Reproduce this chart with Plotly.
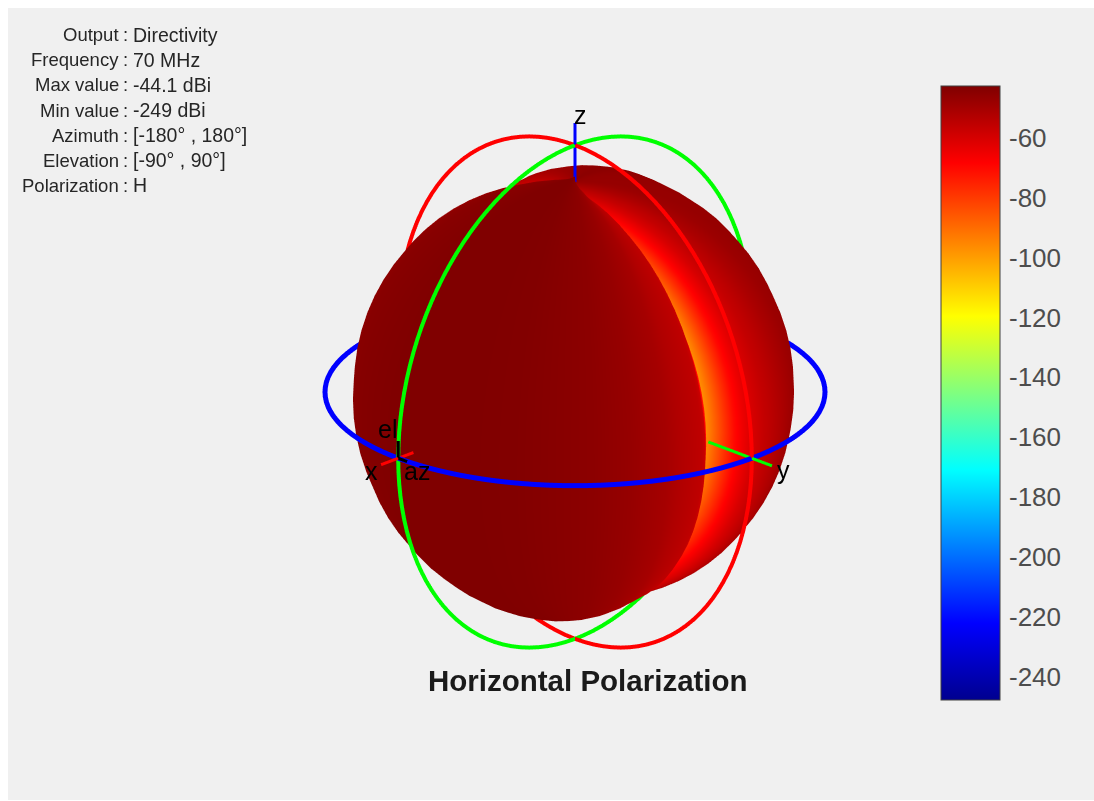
import numpy as np
import plotly.graph_objects as go

# ---- data ----
info_labels = ["Output", "Frequency", "Max value", "Min value", "Azimuth", "Elevation", "Polarization"]
info_values = ["Directivity", "70 MHz", "-44.1 dBi", "-249 dBi", "[-180° , 180°]", "[-90° , 90°]", "H"]
title_text = "Horizontal Polarization"

azimuth_deg = [-180, -170, -160, -150, -140, -130, -120, -110, -100, -95, -90, -87, -85, -84.5, -84, -83.5, -83,
               -80, -76, -70, -60, -50, -40, -30, -20, -10, 0, 10, 20, 30, 40, 50, 60, 65, 70, 74, 78, 82, 84,
               85, 87, 89, 91, 93, 95, 96, 96.4, 96.8, 97, 98, 99, 100, 102, 105, 110, 120, 130, 135, 140,
               150, 160, 170, 180]
directivity_db = [-48, -47, -47, -47.5, -48, -49, -50, -52, -56, -60, -68, -75, -90, -110, -249, -110, -85,
                  -72, -64, -57, -50, -47, -46, -45.5, -45, -44.5, -44.1, -44.3, -44.6, -45, -46, -47, -49,
                  -50.5, -52, -54, -55.5, -57, -60,
                  -65, -71, -77, -83, -89, -95, -100, -249, -120, -100, -90, -80, -72, -67, -62, -58, -53, -50,
                  -49.5, -49, -49, -48.5, -48.5, -48]
elevation_deg = [-90, -85, -80, -75, -70, -65, -60, -55, -50, -45, -40, -35, -30, -25, -20, -15, -10, -5, 0,
                 5, 10, 15, 20, 25, 30, 35, 40, 45, 50, 55, 60, 65, 70, 75, 80, 85, 90]
colorbar_ticks = [-240, -220, -200, -180, -160, -140, -120, -100, -80, -60]
axis_labels = ["x", "y", "z", "el", "az"]
d_min, d_max = -249, -44.1

jet = [[0, "rgb(0,0,143)"], [0.125, "rgb(0,0,255)"], [0.375, "rgb(0,255,255)"],
       [0.625, "rgb(255,255,0)"], [0.875, "rgb(255,0,0)"], [1, "rgb(128,0,0)"]]

# ---- page geometry ----
W, H = 1086, 792
px = lambda v: (v - 8) / W
py = lambda v: 1 - (v - 8) / H

# ---- sphere ----
az = np.radians(azimuth_deg)
el = np.radians(elevation_deg)
AZ, EL = np.meshgrid(az, el)
D = np.tile(np.array(directivity_db), (len(elevation_deg), 1))
R = 0.9 * (D - d_min) / (d_max - d_min)

fig = go.Figure()
fig.add_trace(go.Surface(
    x=R * np.cos(EL) * np.cos(AZ), y=R * np.cos(EL) * np.sin(AZ), z=0.97 * R * np.sin(EL),
    surfacecolor=D, cmin=d_min, cmax=d_max, colorscale=jet, hoverinfo="skip",
    lighting=dict(ambient=1, diffuse=0, specular=0, roughness=1, fresnel=0),
    contours=dict(x=dict(highlight=False), y=dict(highlight=False), z=dict(highlight=False)),
    colorbar=dict(x=px(941), xanchor="left", xpad=0, y=py(86), yanchor="top", ypad=0,
                  lenmode="pixels", len=614, thicknessmode="pixels", thickness=59,
                  outlinecolor="#404040", outlinewidth=1, ticks="", showticklabels=False),
))

# ---- reference rings and axes ----
t = np.radians(np.arange(0, 361, 3))
rings = [(np.cos(t), np.sin(t), 0 * t, "#0000ff", 10),
         (np.cos(t), 0 * t, np.sin(t), "#00ff00", 8),
         (0 * t, np.cos(t), np.sin(t), "#ff0000", 8)]
for x, y, z, c, w in rings:
    fig.add_trace(go.Scatter3d(x=x, y=y, z=z, mode="lines", line=dict(color=c, width=w),
                               hoverinfo="skip", showlegend=False))
segments = [([0, 0], [0, 0], [0.85, 1.09], "#0000ff", 6),
            ([0.914, 1.097], [0, 0], [0, 0], "#ff0000", 6),
            ([0, 0], [0.754, 1.114], [0, 0], "#00ff00", 6),
            ([1, 1], [0, 0], [0, 0.07], "#000000", 6),
            ([1, 1], [0, 0.05], [0, 0], "#000000", 6)]
for x, y, z, c, w in segments:
    fig.add_trace(go.Scatter3d(x=x, y=y, z=z, mode="lines", line=dict(color=c, width=w),
                               hoverinfo="skip", showlegend=False))

# empty trace that carries the colorbar's tick marks and labels
fig.add_trace(go.Scatter(x=[None], y=[None], showlegend=False, hoverinfo="skip"))

off = dict(visible=False, showgrid=False, zeroline=False, showbackground=False, range=[-1.2, 1.2])
annotations = []
for i, (lab, val) in enumerate(zip(info_labels, info_values)):
    yy = py(35 + 25 * i)
    annotations.append(dict(text=lab, x=px(120.5), y=yy, xref="paper", yref="paper", xanchor="right",
                            yanchor="middle", showarrow=False, font=dict(family="Liberation Sans", size=18.5, color="#262626")))
    annotations.append(dict(text=":", x=px(125), y=yy, xref="paper", yref="paper", xanchor="center",
                            yanchor="middle", showarrow=False, font=dict(family="Liberation Sans", size=18.5, color="#262626")))
    annotations.append(dict(text=val, x=px(131), y=yy, xref="paper", yref="paper", xanchor="left",
                            yanchor="middle", showarrow=False, font=dict(family="Liberation Sans", size=19.5, color="#262626")))
annotations.append(dict(text="<b>" + title_text + "</b>", x=px(588), y=py(680), xref="paper", yref="paper",
                        xanchor="center", yanchor="middle", showarrow=False,
                        font=dict(family="Liberation Sans", size=29.5, color="#1a1a1a")))
label_px = [(371, 471), (783, 470), (580, 115), (387, 429), (417, 471)]
for s, (lx, ly) in zip(axis_labels, label_px):
    annotations.append(dict(text=s, x=px(lx), y=py(ly), xref="paper", yref="paper", xanchor="center",
                            yanchor="middle", showarrow=False,
                            font=dict(family="Liberation Sans", size=25, color="#000000")))

S = 1.5625
fig.update_layout(
    width=W, height=H, margin=dict(l=0, r=0, t=0, b=0), paper_bgcolor="#f0f0f0", plot_bgcolor="rgba(0,0,0,0)",
    showlegend=False, annotations=annotations,
    xaxis=dict(visible=False, domain=[px(941), px(1000)]),
    yaxis=dict(domain=[py(700), py(86)], range=[d_min, d_max], anchor="x", side="right", mirror="ticks",
               ticks="inside", ticklen=5, tickcolor="#404040", tickvals=colorbar_ticks,
               ticktext=[str(v) for v in colorbar_ticks], ticklabelstandoff=8, ticklabelshift=4,
               tickfont=dict(family="Liberation Sans", size=26, color="#4d4d4d"),
               showgrid=False, zeroline=False, showline=False),
    scene=dict(
        domain=dict(x=[px(75), px(1075)], y=[py(776), py(8)]),
        xaxis=off, yaxis=off, zaxis=off,
        aspectmode="manual", aspectratio=dict(x=S, y=S, z=1.065 * S),
        camera=dict(projection=dict(type="orthographic"), eye=dict(x=1.2, y=1.2, z=0.686),
                    center=dict(x=0, y=0, z=0), up=dict(x=0, y=0, z=1)),
    ),
)
fig.write_html("out.html", config=dict(displayModeBar=False),
               post_script="document.body.style.marginRight='0';window.dispatchEvent(new Event('resize'));")
